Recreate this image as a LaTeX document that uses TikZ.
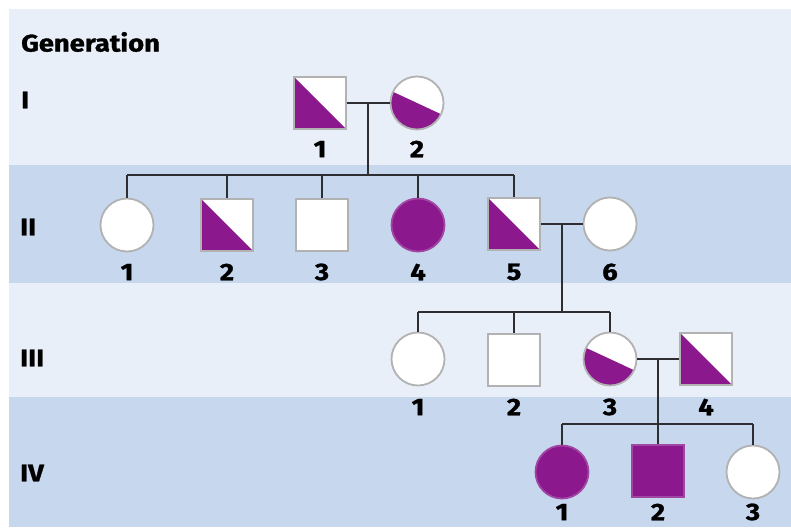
\documentclass[tikz,border=0pt]{standalone}
\usepackage{fontspec}
\setmainfont{Fira Sans}[BoldFeatures={FakeBold=1.2,FakeStretch=1.14}]
\usetikzlibrary{calc}
\definecolor{affp}{RGB}{139,24,140}
\definecolor{symgray}{RGB}{178,178,178}
\definecolor{linec}{RGB}{45,45,50}
\definecolor{bandlight}{RGB}{232,239,249}
\definecolor{banddark}{RGB}{198,215,238}
\begin{document}
\begin{tikzpicture}[x=1pt,y=1pt,
 female/.style={circle,draw=symgray,line width=1.8pt,fill=white,minimum size=53pt,inner sep=0pt},
 male/.style={rectangle,draw=symgray,line width=1.8pt,fill=white,minimum size=52pt,inner sep=0pt},
 affected/.style={fill=affp,draw=affp!80!white},
 halfsq/.style={path picture={\fill[affp] (path picture bounding box.north west) -- (path picture bounding box.south west) -- (path picture bounding box.south east) -- cycle;}},
 halfci/.style={path picture={\fill[affp]
   ($(path picture bounding box.center)+(155:60)$) --
   ($(path picture bounding box.center)+(-115:85)$) --
   ($(path picture bounding box.center)+(-25:60)$) -- cycle;}},
 num/.style={font=\bfseries\fontsize{24}{24}\selectfont,inner sep=0pt},
 gen/.style={font=\bfseries\fontsize{24}{24}\selectfont,anchor=west,inner sep=0pt},
 link/.style={draw=linec,line width=1.8pt}
]
\useasboundingbox (0,0) rectangle (791,-527);
\fill[white] (0,0) rectangle (791,-527);
\fill[bandlight] (9,-9) rectangle (791,-165);
\fill[banddark] (9,-165) rectangle (791,-283);
\fill[bandlight] (9,-283) rectangle (791,-397);
\fill[banddark] (9,-397) rectangle (791,-527);

% generation labels
\node[gen] (gtitle) at (21,-42) {Generation};
\node[gen] (g1) at (21,-100) {I};
\node[gen] (g2) at (20,-227) {II};
\node[gen] (g3) at (20,-358) {III};
\node[gen] (g4) at (20,-473) {IV};

% generation I
\node[male,halfsq] (i1) at (320,-103) {};
\node[female,halfci] (i2) at (417,-103) {};
% generation II
\node[female] (ii1) at (127,-225) {};
\node[male,halfsq] (ii2) at (227,-225) {};
\node[male] (ii3) at (322,-225) {};
\node[female,affected] (ii4) at (418,-225) {};
\node[male,halfsq] (ii5) at (514,-224) {};
\node[female] (ii6) at (610,-224) {};
% generation III
\node[female] (iii1) at (418,-359) {};
\node[male] (iii2) at (514,-360) {};
\node[female,halfci] (iii3) at (610,-359) {};
\node[male,halfsq] (iii4) at (706,-359) {};
% generation IV
\node[female,affected] (iv1) at (562,-472) {};
\node[male,affected] (iv2) at (658,-471) {};
\node[female] (iv3) at (753,-472) {};

% numbers
\node[num] (li1) at (320,-149) {1};
\node[num] (li2) at (417,-149) {2};
\node[num] (lii1) at (127,-272) {1};
\node[num] (lii2) at (227,-272) {2};
\node[num] (lii3) at (322,-272) {3};
\node[num] (lii4) at (418,-272) {4};
\node[num] (lii5) at (514,-272) {5};
\node[num] (lii6) at (610,-272) {6};
\node[num] (liii1) at (418,-407) {1};
\node[num] (liii2) at (514,-407) {2};
\node[num] (liii3) at (610,-407) {3};
\node[num] (liii4) at (706,-407) {4};
\node[num] (liv1) at (562,-512) {1};
\node[num] (liv2) at (658,-512) {2};
\node[num] (liv3) at (753,-512) {3};

% connectors: generation I
\draw[link] (i1) -- (i2);
\coordinate (m1) at ($(i1.east)!0.5!(i2.west)$);
\coordinate (s1) at ($(m1)+(0,-72)$);
\draw[link] (m1) -- (s1);
\draw[link] (ii1.north |- s1) -- (ii5.north |- s1);
\foreach \c in {ii1,ii2,ii3,ii4,ii5} \draw[link] (\c.north |- s1) -- (\c.north);

% connectors: generation II
\draw[link] (ii5) -- (ii6);
\coordinate (m2) at ($(ii5.east)!0.5!(ii6.west)$);
\coordinate (s2) at ($(m2)+(0,-88)$);
\draw[link] (m2) -- (s2);
\draw[link] (iii1.north |- s2) -- (iii3.north |- s2);
\foreach \c in {iii1,iii2,iii3} \draw[link] (\c.north |- s2) -- (\c.north);

% connectors: generation III
\draw[link] (iii3) -- (iii4);
\coordinate (m3) at ($(iii3.east)!0.5!(iii4.west)$);
\coordinate (s3) at ($(m3)+(0,-65)$);
\draw[link] (m3) -- (s3);
\draw[link] (iv1.north |- s3) -- (iv3.north |- s3);
\foreach \c in {iv1,iv2,iv3} \draw[link] (\c.north |- s3) -- (\c.north);
\end{tikzpicture}
\end{document}
